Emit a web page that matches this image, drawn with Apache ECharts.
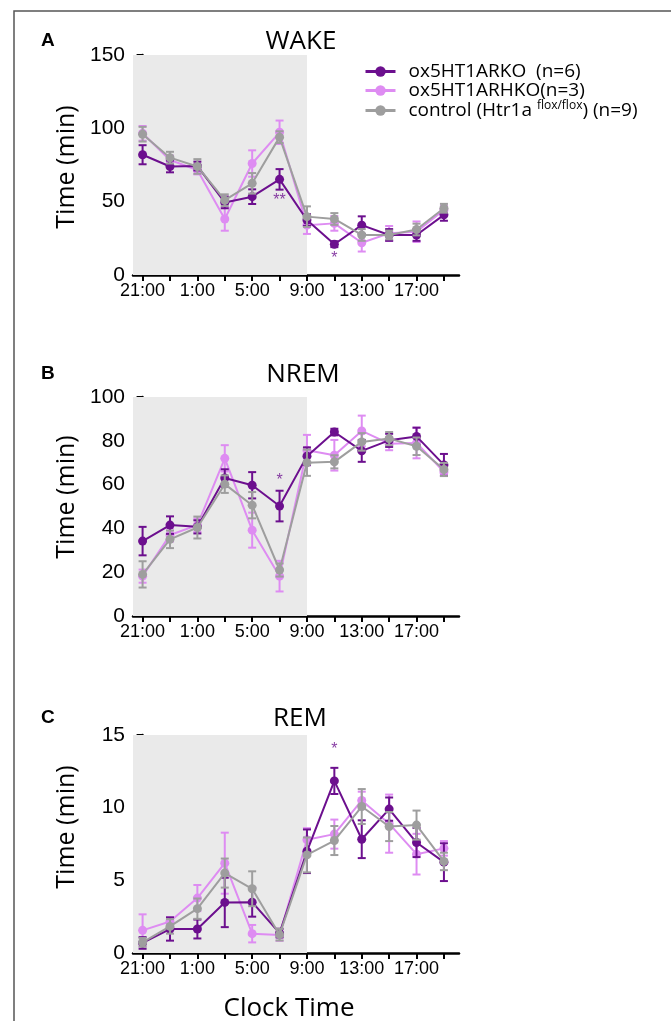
<!DOCTYPE html>
<html>
<head>
<meta charset="utf-8">
<script src="https://cdn.jsdelivr.net/npm/echarts@6/dist/echarts.min.js"></script>
<style>
html,body{margin:0;padding:0;background:#fff;}
#chart{width:671px;height:1021px;}
</style>
</head>
<body>
<div id="chart"></div>
<script>
// ---- data ----
const timeLabels = ['21:00','23:00','1:00','3:00','5:00','7:00','9:00','11:00','13:00','15:00','17:00','19:00'];
const tickLabels = ['21:00','1:00','5:00','9:00','13:00','17:00'];
const seriesNames = ['ox5HT1ARKO  (n=6)', 'ox5HT1ARHKO(n=3)', 'control (Htr1a flox/flox) (n=9)'];

// WAKE
const wakeKO      = [82, 74, 74.3, 49.5, 53.4, 65.2, 37.5, 21, 34, 27.3, 27.3, 41];
const wakeKOErr   = [6.5, 4, 3, 4, 5, 7, 4, 2, 6, 4, 4, 4];
const wakeHKO     = [96.6, 78.4, 71.6, 38.2, 76, 97.3, 34, 35.2, 22, 28.4, 29.5, 44.3];
const wakeHKOErr  = [5, 3, 3, 8, 9, 8, 6, 5, 6, 5, 7, 3];
const wakeCtl     = [96, 80, 74, 51, 62.5, 94, 39.8, 38.2, 27.3, 27.3, 31, 45.5];
const wakeCtlErr  = [5, 4, 5, 4, 7, 4, 7, 4, 4, 3, 4, 3];

// NREM
const nremKO      = [34.2, 41.5, 40.7, 63, 59.7, 50.2, 73, 84, 75.4, 80.2, 82, 69];
const nremKOErr   = [6.5, 4, 3, 4, 6, 7, 4, 1.5, 5, 3, 4, 5];
const nremHKO     = [18.2, 37, 41.5, 72, 39.2, 18.2, 75.7, 73.4, 84.5, 78.7, 79, 65.8];
const nremHKOErr  = [3, 3, 3, 6, 8, 7, 7, 7, 7, 3, 7, 1];
const nremCtl     = [19, 35, 40.4, 60.2, 50.6, 21, 70, 70.4, 79.5, 81, 77.5, 66.9];
const nremCtlErr  = [6, 4, 5, 4, 6, 3, 6, 3, 4, 3, 4, 3];

// REM
const remKO       = [0.69, 1.65, 1.65, 3.48, 3.5, 1.37, 7, 11.84, 7.83, 9.9, 7.6, 6.25];
const remKOErr    = [0.4, 0.8, 0.65, 1.7, 1, 0.3, 1.5, 0.9, 1.3, 0.8, 1, 1.3];
const remHKO      = [1.56, 2.17, 3.78, 6.18, 1.33, 1.24, 7.79, 8.18, 10.5, 8.9, 6.8, 7.2];
const remHKOErr   = [1.1, 0.3, 0.9, 2.1, 0.6, 0.4, 0.8, 1, 0.6, 2, 1.4, 0.5];
const remCtl      = [0.73, 1.83, 3.05, 5.5, 4.42, 1.26, 6.75, 7.74, 10.08, 8.7, 8.8, 6.3];
const remCtlErr   = [0.3, 0.5, 0.7, 1, 1.2, 0.4, 1.2, 1, 1.2, 1, 1, 0.6];

// significance marks: [time label, y position, text]
const wakeStars = [['7:00', 50.5, '**'], ['11:00', 11.5, '*']];
const nremStars = [['7:00', 62, '*']];
const remStars  = [['11:00', 14, '*']];

const panelTitles = ['WAKE', 'NREM', 'REM'];
const panelLetters = ['A', 'B', 'C'];
const yAxisTitle = 'Time (min)';
const xAxisTitle = 'Clock Time';
const yMax = [150, 100, 15];
const yInterval = [50, 20, 5];

// ---- styling ----
const colors = ['#6c0f8e', '#de8cf2', '#9e9e9e'];
const gridTops = [55, 397, 735];
const gridHeights = [220, 219, 218];
const GRID_LEFT = 133, GRID_W = 326;
const X_MIN = -0.7, X_MAX = 23.1;
const darkEnd = 12; // 9:00

const hourOf = lbl => timeLabels.indexOf(lbl) * 2;
const pts = arr => arr.map((v, i) => [i * 2, v]);

function errSeries(means, errs, color, idx, z) {
  return {
    type: 'custom', xAxisIndex: idx, yAxisIndex: idx, z: z, silent: true,
    data: means.map((m, i) => [i * 2, m - errs[i], m + errs[i]]),
    encode: { x: 0, y: [1, 2] },
    renderItem: function (params, api) {
      const x = api.value(0);
      const lo = api.coord([x, api.value(1)]);
      const hi = api.coord([x, api.value(2)]);
      const w = 4;
      const st = { stroke: color, lineWidth: 2 };
      return {
        type: 'group',
        children: [
          { type: 'line', shape: { x1: lo[0], y1: lo[1], x2: hi[0], y2: hi[1] }, style: st },
          { type: 'line', shape: { x1: lo[0] - w, y1: lo[1], x2: lo[0] + w, y2: lo[1] }, style: st },
          { type: 'line', shape: { x1: hi[0] - w, y1: hi[1], x2: hi[0] + w, y2: hi[1] }, style: st }
        ]
      };
    }
  };
}

function lineSeries(name, vals, color, idx, z) {
  return {
    type: 'line', name: name, xAxisIndex: idx, yAxisIndex: idx, z: z,
    data: pts(vals), symbol: 'circle', symbolSize: 9, showSymbol: true,
    lineStyle: { color: color, width: 2 }, itemStyle: { color: color },
    emphasis: { disabled: true }, animation: false
  };
}

const grids = [], xAxes = [], yAxes = [], series = [];
const panelData = [
  [wakeKO, wakeKOErr, wakeHKO, wakeHKOErr, wakeCtl, wakeCtlErr, wakeStars],
  [nremKO, nremKOErr, nremHKO, nremHKOErr, nremCtl, nremCtlErr, nremStars],
  [remKO, remKOErr, remHKO, remHKOErr, remCtl, remCtlErr, remStars]
];

for (let p = 0; p < 3; p++) {
  grids.push({ left: GRID_LEFT, top: gridTops[p], width: GRID_W, height: gridHeights[p] });
  xAxes.push({
    type: 'value', gridIndex: p, min: X_MIN, max: X_MAX,
    splitLine: { show: false },
    axisLine: { show: true, onZero: false, lineStyle: { color: '#000', width: 2.5 } },
    axisTick: { show: true, length: 6, lineStyle: { color: '#000', width: 2 },
      customValues: timeLabels.map((_, i) => i * 2) },
    axisLabel: { show: true, color: '#000', fontSize: 18, fontFamily: 'Liberation Sans', margin: 7,
      customValues: tickLabels.map(hourOf),
      formatter: v => timeLabels[Math.round(v / 2)] }
  });
  yAxes.push({
    type: 'value', gridIndex: p, min: 0, max: yMax[p], interval: yInterval[p],
    splitLine: { show: false },
    axisLine: { show: true, lineStyle: { color: '#000', width: 2.5 } },
    axisTick: { show: true, length: 6, lineStyle: { color: '#000', width: 2 } },
    axisLabel: { color: '#000', fontSize: 21, fontFamily: 'Liberation Sans', margin: 8 }
  });
  const d = panelData[p];
  // shaded dark phase
  series.push({
    type: 'line', xAxisIndex: p, yAxisIndex: p, data: [], silent: true, z: 0,
    markArea: { silent: true, itemStyle: { color: '#eaeaea' },
      data: [[{ coord: [X_MIN, 0] }, { coord: [darkEnd, yMax[p]] }]] }
  });
  series.push(errSeries(d[2], d[3], colors[1], p, 3));
  series.push(lineSeries(seriesNames[1], d[2], colors[1], p, 4));
  series.push(errSeries(d[0], d[1], colors[0], p, 5));
  series.push(lineSeries(seriesNames[0], d[0], colors[0], p, 6));
  series.push(errSeries(d[4], d[5], colors[2], p, 7));
  series.push(lineSeries(seriesNames[2], d[4], colors[2], p, 8));
  series.push({
    type: 'scatter', xAxisIndex: p, yAxisIndex: p, symbolSize: 0, silent: true, z: 9,
    data: d[6].map(s => ({ value: [hourOf(s[0]), s[1]], label: { formatter: s[2] } })),
    label: { show: true, position: 'inside', color: colors[0], fontSize: 16, fontFamily: 'Liberation Sans' }
  });
}

const titleCenters = [[301, 42], [303, 375], [300, 719]];
const letterPos = [[41, 41], [41, 374], [41, 718]];
const yNameCenters = [[67, 167], [67, 497], [67, 827]];
const graphics = [
  { type: 'polyline', shape: { points: [[14, 1021], [14, 11], [671, 11]] }, style: { stroke: '#555', lineWidth: 1.5, fill: null } },
  { type: 'text', x: 289, y: 1009, style: { text: xAxisTitle, fontSize: 26, fontFamily: 'Open Sans', fill: '#000', align: 'center', verticalAlign: 'middle' } }
];
for (let p = 0; p < 3; p++) {
  graphics.push({ type: 'text', x: titleCenters[p][0], y: titleCenters[p][1],
    style: { text: panelTitles[p], fontSize: 26, fontFamily: 'Open Sans', fill: '#000', align: 'center', verticalAlign: 'middle' } });
  graphics.push({ type: 'text', x: letterPos[p][0], y: letterPos[p][1],
    style: { text: panelLetters[p], fontSize: 19, fontWeight: 'bold', fontFamily: 'Liberation Sans', fill: '#000', align: 'left', verticalAlign: 'middle' } });
  graphics.push({ type: 'text', x: yNameCenters[p][0], y: yNameCenters[p][1], rotation: Math.PI / 2,
    style: { text: yAxisTitle, fontSize: 25, fontFamily: 'Open Sans', fill: '#000', align: 'center', verticalAlign: 'middle' } });
}

const chart = echarts.init(document.getElementById('chart'), null, { renderer: 'canvas' });
chart.setOption({
  animation: false,
  backgroundColor: '#fff',
  grid: grids, xAxis: xAxes, yAxis: yAxes, series: series,
  graphic: graphics,
  legend: {
    data: seriesNames.map((n, i) => ({ name: n, itemStyle: { color: colors[i] }, lineStyle: { color: colors[i], width: 3 } })),
    orient: 'vertical', left: 359, top: 57, itemGap: 0, itemWidth: 30, itemHeight: 13,
    selectedMode: false,
    textStyle: { fontSize: 19, fontFamily: 'Open Sans', color: '#000', lineHeight: 19, padding: [0, 0, 0, 8],
      rich: {
        a: { fontSize: 19, fontFamily: 'Open Sans', color: '#000', lineHeight: 19 },
        sup: { fontSize: 12, fontFamily: 'Open Sans', color: '#000', padding: [0, 0, 9, 0] }
      } },
    formatter: function (name) {
      if (name.indexOf('flox') >= 0) return '{a|control (Htr1a }{sup|flox/flox}{a|) (n=9)}';
      return name;
    }
  }
});
</script>
</body>
</html>
